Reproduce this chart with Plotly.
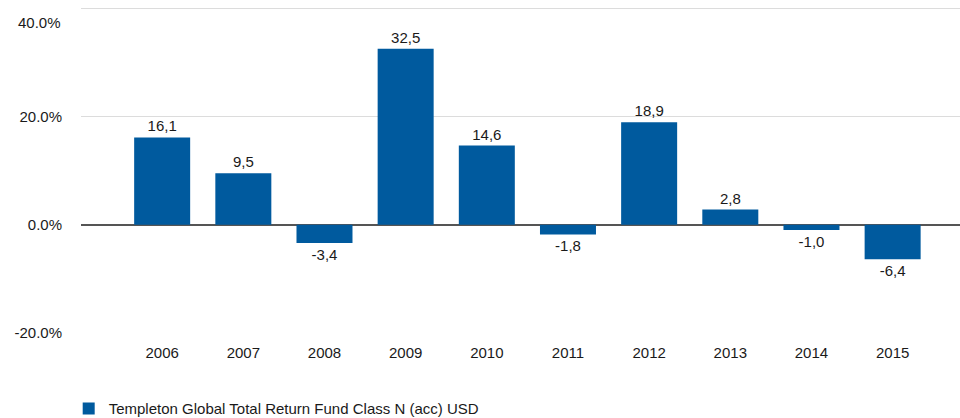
import plotly.graph_objects as go

years = ["2006", "2007", "2008", "2009", "2010", "2011", "2012", "2013", "2014", "2015"]
returns = [16.1, 9.5, -3.4, 32.5, 14.6, -1.8, 18.9, 2.8, -1.0, -6.4]
series_name = "Templeton Global Total Return Fund Class N (acc) USD"
y_ticks = [-20, 0, 20, 40]

labels = [f"{v:.1f}".replace(".", ",") for v in returns]
y_tick_text = [f"{v:.1f}%" for v in y_ticks]

FONT = "Liberation Sans, Arial, sans-serif"

fig = go.Figure()
fig.add_trace(go.Bar(
    x=list(range(len(years))),
    y=returns,
    name=series_name,
    text=labels,
    textposition="outside",
    cliponaxis=False,
    textfont=dict(family=FONT, size=15, color="#1a1a1a"),
    marker=dict(color="#005A9E", line=dict(width=0)),
    width=0.69,
    showlegend=True,
))

# top tick label drawn just below its gridline (as in the reference)
shown_text = y_tick_text[:-1] + [""]
fig.add_annotation(
    xref="paper", x=0, xanchor="right", xshift=-18,
    yref="y", y=y_ticks[-1], yanchor="middle", yshift=-14,
    text=y_tick_text[-1], showarrow=False,
    font=dict(family=FONT, size=15, color="#1a1a1a"),
)

fig.update_layout(
    width=960, height=418,
    margin=dict(l=81, r=0, t=4, b=85, autoexpand=False),
    plot_bgcolor="white", paper_bgcolor="white",
    font=dict(family=FONT, size=15, color="#1a1a1a"),
    xaxis=dict(
        tickvals=list(range(len(years))), ticktext=years,
        range=[-1.0, 9.83], showgrid=False, zeroline=False,
        showline=False, ticks="", ticklabelstandoff=9,
        tickfont=dict(size=15),
    ),
    yaxis=dict(
        range=[-20.0, 40.74], tickvals=y_ticks, ticktext=shown_text,
        showgrid=True, gridcolor="#dcdcdc", gridwidth=1,
        zeroline=True, zerolinecolor="#555555", zerolinewidth=1.5,
        showline=False, ticks="", ticklabelstandoff=18,
        tickfont=dict(size=15),
    ),
    legend=dict(
        orientation="h", x=-0.014, xanchor="left",
        y=-0.23, yanchor="middle",
        font=dict(size=15), bgcolor="rgba(0,0,0,0)",
    ),
    bargap=0.3,
)

fig.write_html(
    "out.html",
    config={"displayModeBar": False},
    post_script="document.body.style.margin='0';document.body.style.overflow='hidden';",
)
